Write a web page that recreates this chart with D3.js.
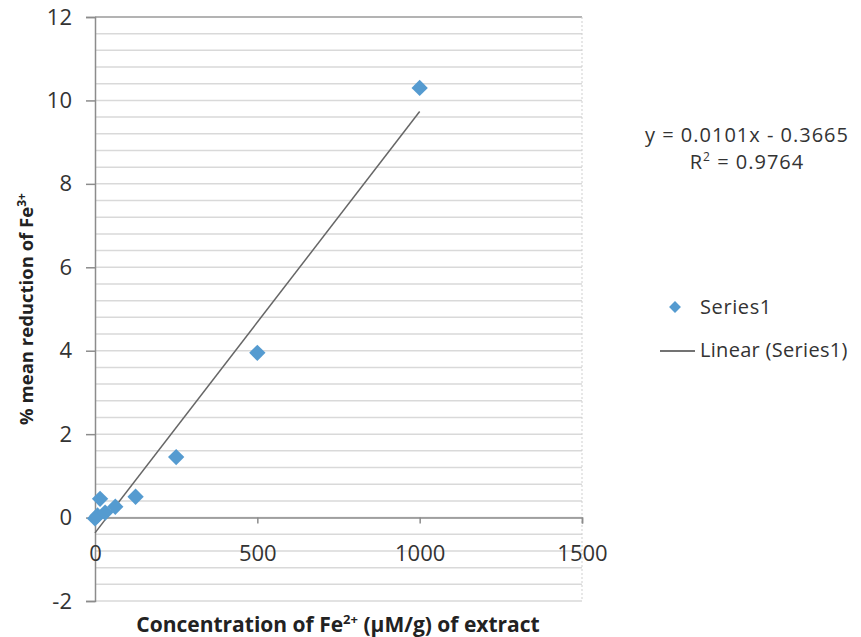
<!DOCTYPE html>
<html>
<head>
<meta charset="utf-8">
<script src="https://cdn.jsdelivr.net/npm/d3@7"></script>
<style>
  body { margin: 0; background: #fff; }
  svg { font-family: "Open Sans", sans-serif; }
</style>
</head>
<body>
<svg id="chart" width="861" height="637"></svg>
<script>
// data
const concentration = [0, 7.8, 15.6, 31.25, 62.5, 125, 250, 500, 1000];
const reduction = [-0.02, 0.05, 0.45, 0.12, 0.26, 0.5, 1.45, 3.95, 10.3];
const xTicks = [0, 500, 1000, 1500];
const yTicks = [-2, 0, 2, 4, 6, 8, 10, 12];
const slope = 0.0101;
const intercept = -0.3665;
const rSquared = "0.9764";
const seriesName = "Series1";

const svg = d3.select("#chart");

// plot area
const x = d3.scaleLinear().domain([0, 1500]).range([95, 582]);
const y = d3.scaleLinear().domain([-2, 12]).range([601, 17]);

// minor gridlines every 0.4
const grid = d3.range(0, 36).map(i => Math.round((-2 + i * 0.4) * 10) / 10);
svg.append("g").selectAll("line").data(grid).enter().append("line")
  .attr("x1", x(0)).attr("x2", x(1500))
  .attr("y1", d => y(d)).attr("y2", d => y(d))
  .attr("stroke", d => d === 12 ? "#9a9a9a" : "#d9d9d9")
  .attr("stroke-width", 1.5);

// right border
svg.append("line")
  .attr("x1", x(1500)).attr("x2", x(1500)).attr("y1", y(12)).attr("y2", y(-2))
  .attr("stroke", "#cfcfcf").attr("stroke-dasharray", "2,2");

// y axis
const yAxis = d3.axisLeft(y).tickValues(yTicks).tickFormat(d => String(d)).tickSize(9).tickPadding(14);
const gy = svg.append("g").attr("transform", `translate(${x(0)},0)`).call(yAxis);
gy.select(".domain").attr("stroke", "#8c8c8c").attr("stroke-width", 1.5);
gy.selectAll(".tick line").attr("stroke", "#8c8c8c").attr("stroke-width", 1.5);
gy.selectAll(".tick text").attr("font-size", 22).attr("fill", "#333").attr("font-family", "Open Sans");

// x axis at y = 0
const xAxis = d3.axisBottom(x).tickValues(xTicks).tickFormat(d => String(d)).tickSize(6).tickPadding(22);
const gx = svg.append("g").attr("transform", `translate(0,${y(0)})`).call(xAxis);
gx.select(".domain").attr("stroke", "#8c8c8c").attr("stroke-width", 1.5);
gx.selectAll(".tick line").attr("stroke", "#8c8c8c").attr("stroke-width", 1.5);
gx.selectAll(".tick text").attr("font-size", 22).attr("fill", "#333").attr("font-family", "Open Sans");

// trendline
const xMin = d3.min(concentration), xMax = d3.max(concentration);
svg.append("line")
  .attr("x1", x(xMin)).attr("y1", y(slope * xMin + intercept))
  .attr("x2", x(xMax)).attr("y2", y(slope * xMax + intercept))
  .attr("stroke", "#666").attr("stroke-width", 1.5);

// markers
const diamond = d3.symbol().type(d3.symbolDiamond2).size(170);
const points = concentration.map((c, i) => [c, reduction[i]]);
svg.append("g").selectAll("path").data(points).enter().append("path")
  .attr("d", diamond)
  .attr("transform", d => `translate(${x(d[0])},${y(d[1])})`)
  .attr("fill", "#559bd0");

// axis titles
const xt = svg.append("text").attr("x", 338).attr("y", 632)
  .attr("text-anchor", "middle").attr("font-size", 21).attr("font-weight", "bold").attr("fill", "#222");
xt.append("tspan").text("Concentration of Fe");
xt.append("tspan").attr("font-size", 13).attr("dy", -8).text("2+");
xt.append("tspan").attr("dy", 8).text(" (µM/g) of extract");

const yt = svg.append("text").attr("transform", "translate(33,309) rotate(-90)")
  .attr("text-anchor", "middle").attr("font-size", 18.5).attr("font-weight", "bold").attr("fill", "#222");
yt.append("tspan").text("% mean reduction of Fe");
yt.append("tspan").attr("font-size", 12).attr("dy", -7).text("3+");

// equation
svg.append("text").attr("x", 747).attr("y", 142).attr("text-anchor", "middle")
  .attr("font-size", 20).attr("letter-spacing", 1).attr("fill", "#333")
  .text(`y = ${slope}x - ${Math.abs(intercept)}`);
const r2 = svg.append("text").attr("x", 747).attr("y", 169).attr("text-anchor", "middle")
  .attr("font-size", 20).attr("letter-spacing", 1).attr("fill", "#333");
r2.append("tspan").text("R");
r2.append("tspan").attr("font-size", 12).attr("dy", -8).text("2");
r2.append("tspan").attr("dy", 8).text(` = ${rSquared}`);

// legend
const legend = svg.append("g");
legend.append("path").attr("d", d3.symbol().type(d3.symbolDiamond2).size(90))
  .attr("transform", "translate(675,307)").attr("fill", "#559bd0");
legend.append("text").attr("x", 700).attr("y", 314).attr("font-size", 20).attr("letter-spacing", 0.6)
  .attr("fill", "#333").text(seriesName);
legend.append("line").attr("x1", 660).attr("x2", 695).attr("y1", 351).attr("y2", 351)
  .attr("stroke", "#444").attr("stroke-width", 1.5);
legend.append("text").attr("x", 700).attr("y", 357).attr("font-size", 20).attr("letter-spacing", 0.3)
  .attr("fill", "#333").text(`Linear (${seriesName})`);
</script>
</body>
</html>
